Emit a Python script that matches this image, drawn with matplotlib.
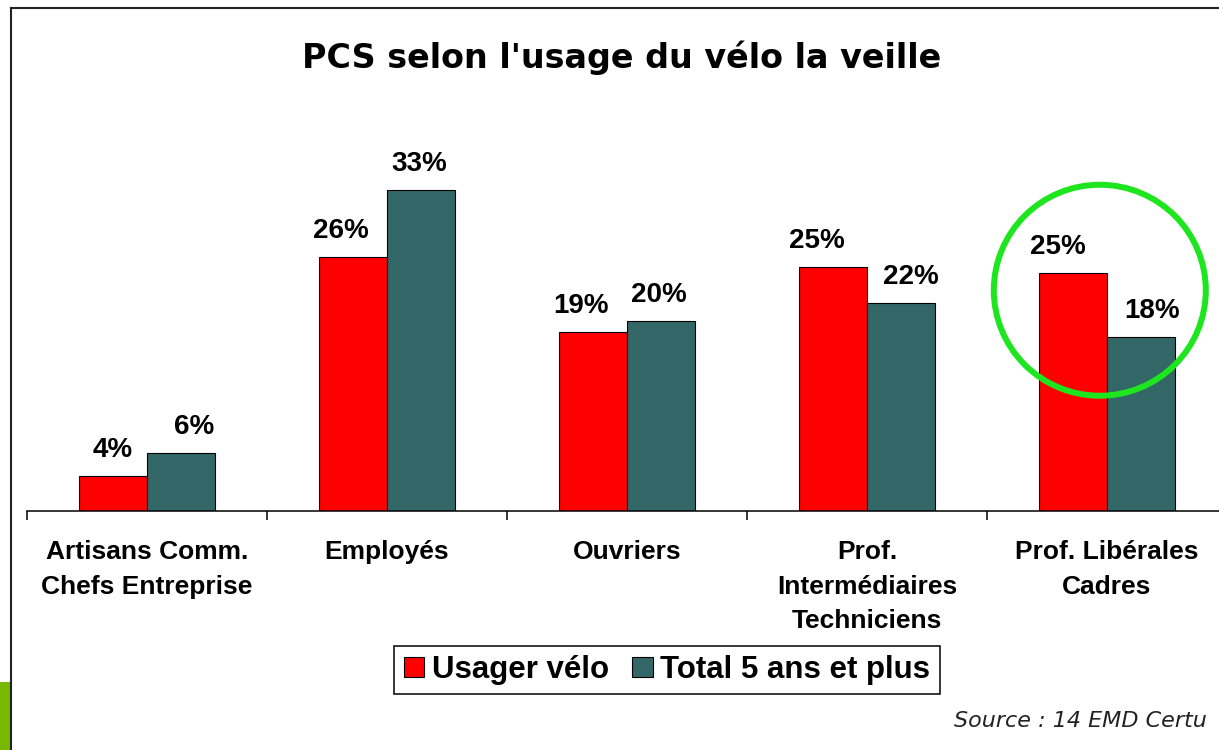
import matplotlib
matplotlib.use("Agg")
import matplotlib.pyplot as plt
from matplotlib.patches import Patch, Ellipse, Rectangle
from matplotlib.lines import Line2D

# ---------------- data ----------------
categories = ["Artisans Comm.\nChefs Entreprise", "Employés", "Ouvriers",
              "Prof.\nIntermédiaires\nTechniciens", "Prof. Libérales\nCadres"]
usager_velo = [3.6, 26.4, 18.6, 25.3, 24.7]
total_5_ans = [6.0, 33.3, 19.7, 21.6, 18.0]
series_names = ["Usager vélo", "Total 5 ans et plus"]
title = "PCS selon l'usage du vélo la veille"
source = "Source : 14 EMD Certu"

# ---------------- layout / style ----------------
W, H, DPI = 1219, 750, 100
RED = "#ff0000"
TEAL = "#336666"
label_dx_red = [0, -12, -12, -16, -15]     # px nudges of value labels
label_dx_teal = [13, -2, -2, 10, 11]
PX = 72.0 / DPI  # points per pixel

fig = plt.figure(figsize=(W / DPI, H / DPI), dpi=DPI)
fig.patch.set_facecolor("white")

def fx(px):
    return px / W

def fy(py):
    return 1 - py / H

# axes: baseline at y=511 px, x from 27 px, 240 px per category
ax = fig.add_axes([fx(27), fy(511), 1200 / W, 385.6 / H])
ax.set_xlim(-0.5, 4.5)
ax.set_ylim(0, 40)
ax.patch.set_alpha(0)

bw = 68 / 240
xs = list(range(len(categories)))
xr = [x - bw / 2 for x in xs]
xt = [x + bw / 2 for x in xs]
ax.bar(xr, usager_velo, width=bw, color=RED, edgecolor="black", linewidth=0.8, zorder=2)
ax.bar(xt, total_5_ans, width=bw, color=TEAL, edgecolor="black", linewidth=0.8, zorder=2)

for x, v, dx in zip(xr, usager_velo, label_dx_red):
    ax.annotate(f"{v:.0f}%", (x, v), xytext=(dx * PX, 19 * PX), textcoords="offset points",
                ha="center", va="baseline", fontsize=20, fontweight="bold",
                family="Liberation Sans")
for x, v, dx in zip(xt, total_5_ans, label_dx_teal):
    ax.annotate(f"{v:.0f}%", (x, v), xytext=(dx * PX, 19 * PX), textcoords="offset points",
                ha="center", va="baseline", fontsize=20, fontweight="bold",
                family="Liberation Sans")

# spines / ticks
for s in ["left", "right", "top"]:
    ax.spines[s].set_visible(False)
ax.spines["bottom"].set_linewidth(1.1)
ax.set_yticks([])
ax.set_xticks(xs)
ax.set_xticklabels(categories, fontsize=19, fontweight="bold", family="Liberation Sans",
                   linespacing=1.55)
ax.tick_params(axis="x", which="major", length=0, pad=21)
ax.set_xticks([x - 0.5 for x in xs] + [4.5], minor=True)
ax.tick_params(axis="x", which="minor", length=9 * PX, width=1.1, direction="out")

# highlight circle
circ = Ellipse((3.97, 22.9), width=212 / 240, height=211 / 9.64, fill=False,
               edgecolor="#1ee61e", linewidth=6 * PX, zorder=5, clip_on=False)
ax.add_patch(circ)

# title
fig.text(fx(622), fy(58), title, ha="center", va="center", fontsize=24,
         fontweight="bold", family="DejaVu Sans")

# legend
handles = [Patch(facecolor=RED, edgecolor="black", linewidth=0.8),
           Patch(facecolor=TEAL, edgecolor="black", linewidth=0.8)]
leg = fig.legend(handles, series_names, loc="center", bbox_to_anchor=(fx(667), fy(670)),
                 ncol=2, frameon=True, fancybox=False, shadow=False, framealpha=1,
                 edgecolor="black", prop={"family": "Liberation Sans", "weight": "bold", "size": 22.5},
                 handlelength=0.65, handleheight=0.65, handletextpad=0.25,
                 columnspacing=0.75, borderpad=0.3, borderaxespad=0)
leg.get_frame().set_linewidth(1.1)

# source
fig.text(fx(1207), fy(721), source, ha="right", va="center", fontsize=16,
         style="italic", family="DejaVu Sans", color="#222222")

# slide frame and green mark
fig.add_artist(Line2D([fx(11), fx(1219)], [fy(8), fy(8)], color="#222222", linewidth=1.5))
fig.add_artist(Line2D([fx(11), fx(11)], [fy(8), fy(750)], color="#222222", linewidth=1.5))
fig.add_artist(Rectangle((0, 0), fx(10), (750 - 682) / H, facecolor="#78b800",
                         edgecolor="none", transform=fig.transFigure))

fig.savefig("out.png", dpi=DPI)
